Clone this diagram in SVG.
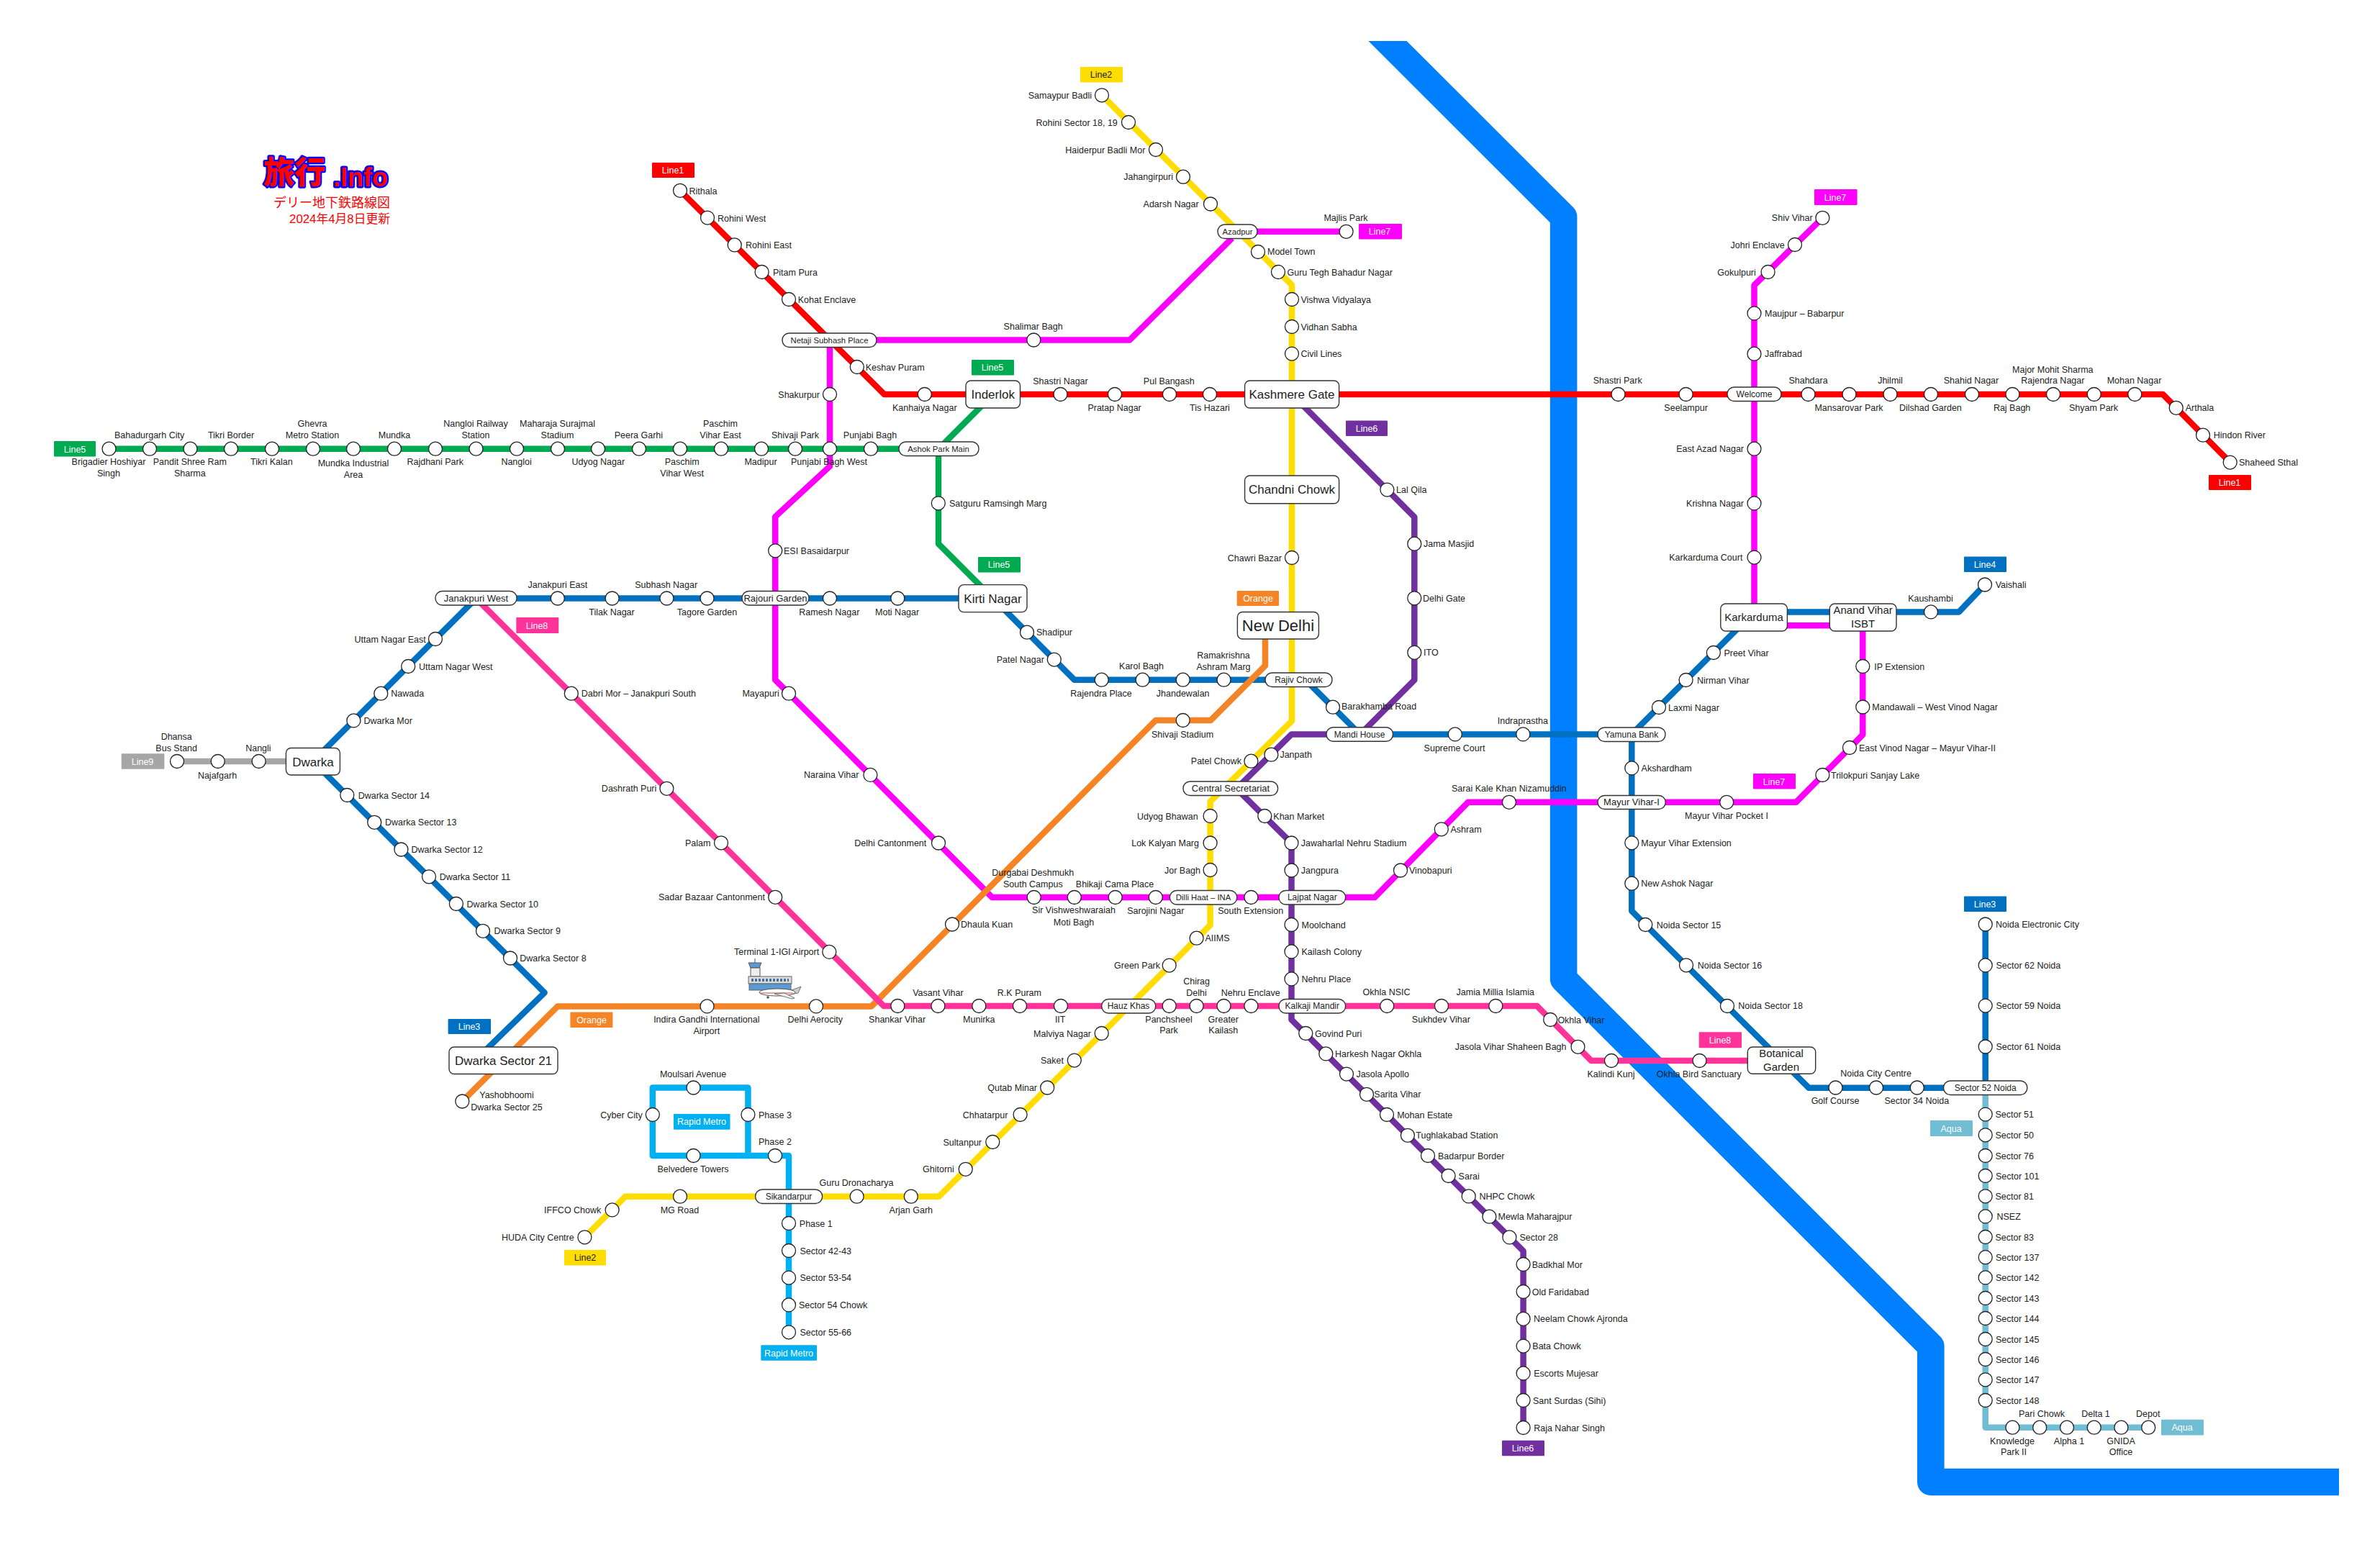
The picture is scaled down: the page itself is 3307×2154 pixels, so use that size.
<svg xmlns="http://www.w3.org/2000/svg" width="3307" height="2154" viewBox="0 0 3307 2154">
<style>
text{font-family:"Liberation Sans","Noto Sans CJK JP",sans-serif;font-size:12.5px;fill:#222}
.m{text-anchor:middle}
.e{text-anchor:end}
.s{fill:#fff;stroke:#222;stroke-width:1.3}
.b{fill:#fff;stroke:#333;stroke-width:1.4}
.i{font-size:12px;text-anchor:middle}
.i13{font-size:13px;text-anchor:middle}
.i11{font-size:11.3px;text-anchor:middle}
.h{font-size:15px;text-anchor:middle}
.k{font-size:17px;text-anchor:middle}
.tag{font-size:12.5px;text-anchor:middle;fill:#fff}
.tagd{font-size:12.5px;text-anchor:middle;fill:#222}
#lines path{fill:none;stroke-width:8.5;stroke-linejoin:round}
.c1{stroke:#f00}.c2{stroke:#fd0}.c3{stroke:#0070c0}.c5{stroke:#00aa50}.c6{stroke:#7030a0}.c7{stroke:#f0f}.c8{stroke:#f39}.c9{stroke:#a6a6a6}.co{stroke:#f58426}.cr{stroke:#00b0f0}.ca{stroke:#70bdd4}
.f1{fill:#f00}.f2{fill:#fd0}.f3{fill:#0070c0}.f5{fill:#00aa50}.f6{fill:#7030a0}.f7{fill:#f0f}.f8{fill:#f39}.f9{fill:#a6a6a6}.fo{fill:#f58426}.fr{fill:#00b0f0}.fa{fill:#70bdd4}
</style>
<defs><clipPath id="rc"><rect x="1800" y="57" width="1450" height="2050"/></clipPath></defs>
<g id="river" clip-path="url(#rc)"><path d="M1900 29L2172.6 301.4V1360.6L2682.8 1870.8V2059.5H3260" fill="none" stroke="#0080ff" stroke-width="37.6" stroke-linejoin="round"/></g>
<g id="lines">
<path class="c9" d="M246 1058H435"/>
<path class="c7" d="M1870.6 321.8H1719.5M1712 331L1569.6 472.5H1153V648L1077.2 718V944.8L1378.5 1247H1910.2L2040 1114.8H2495.7L2588.3 1021V858M2437.5 858V396.4L2532.4 302.8M2470 869.3H2560"/>
<path class="c2" d="M1531 132.3L1795 396V1002L1681.6 1114V1285.4L1304.7 1662.7H869L812.4 1719.3"/>
<path class="c5" d="M151.5 623.7H1304M1380 548L1304 624V755.7L1379.7 831.5"/>
<path class="c1" d="M945 264.8L1228.7 548H3005.3L3098.7 642.6"/>
<path class="cr" d="M1039.4 1606V1511.5H906.8V1606H1096V1851.3"/>
<path class="c3" d="M670 1464L756.6 1379.5L434.9 1058L661.5 831.5H1380L1492.8 944.7H1814L1889.7 1020.4H2267.3M2267 1020.4L2430 858M2470 850.4H2722L2758 812.5M2267.3 1020.4V1266L2513.3 1511.7H2758.7V1284.5"/>
<path class="ca" d="M2758.7 1511.5V1983.7H2985.2"/>
<path class="c6" d="M1795 548L1965.3 718.4V945L1890 1020.4H1794.5L1718 1096L1794.5 1171.5V1417L2116.6 1738.5V1984"/>
<path class="co" d="M642.3 1530.5L774.8 1398.4H1210.8L1605.8 1001H1682.3L1758 925V870"/>
<path class="c8" d="M661.5 831.5L1228 1398H2135.7L2211 1474H2440"/>
</g>
<g id="logo">
<text x="366" y="254.5" style="font-family:'Noto Sans CJK JP',sans-serif;font-size:43px;font-weight:900;fill:#f00;stroke:#00f;stroke-width:4.5px;paint-order:stroke;stroke-linejoin:round">旅行</text>
<text x="463" y="259" style="font-family:'Liberation Sans',sans-serif;font-size:36px;font-weight:700;fill:#f00;stroke:#00f;stroke-width:5px;paint-order:stroke;stroke-linejoin:round">.Info</text>
<text x="380" y="287.5" style="font-family:'Noto Sans CJK JP',sans-serif;font-size:18px;fill:#f00">デリー地下鉄路線図</text>
<text x="542" y="310" class="e" style="font-family:'Liberation Sans','Noto Sans CJK JP',sans-serif;font-size:16.8px;fill:#f00">2024年4月8日更新</text>
</g>
<g id="airport">
<line x1="1049" y1="1332" x2="1049" y2="1338" stroke="#555"/>
<polygon points="1040,1338 1058,1338 1055,1345 1043,1345" fill="#5b9bd5" stroke="#555"/>
<rect x="1043" y="1345" width="13" height="12" fill="#eee" stroke="#555"/>
<rect x="1040" y="1357" width="60" height="10" fill="#ddd" stroke="#666"/>
<line x1="1044" y1="1362" x2="1096" y2="1362" stroke="#44709f" stroke-width="4" stroke-dasharray="3 2"/>
<rect x="1041" y="1367" width="58" height="9" fill="#5b9bd5" stroke="#666"/>
<polygon points="1097,1377 1113,1371 1109,1380 1098,1382" fill="#ccc" stroke="#555" stroke-width=".8"/>
<ellipse cx="1080" cy="1379" rx="25" ry="5" fill="#fff" stroke="#555"/>
<line x1="1056" y1="1380" x2="1102" y2="1380" stroke="#c44" stroke-width="1.2"/>
<polygon points="1076,1381 1100,1388 1104,1387 1090,1380" fill="#eee" stroke="#555" stroke-width=".8"/>
<circle cx="1067" cy="1386" r="1.8" fill="#555"/>
</g>
<g id="tag-line1a"><rect class="f1" x="906" y="226" width="59" height="21" rx="1"/><text class="tag" x="935" y="241">Line1</text></g>
<g id="tag-line1b"><rect class="f1" x="3069" y="660" width="59" height="21" rx="1"/><text class="tag" x="3098" y="675">Line1</text></g>
<g id="tag-line2a"><rect class="f2" x="1501" y="93" width="59" height="21.5" rx="1"/><text class="tagd" x="1530" y="108">Line2</text></g>
<g id="tag-line2b"><rect class="f2" x="784" y="1737" width="58" height="21.5" rx="1"/><text class="tagd" x="813" y="1752">Line2</text></g>
<g id="tag-line3a"><rect class="f3" x="622.6" y="1416" width="59.4" height="21" rx="1"/><text class="tag" x="652" y="1431">Line3</text></g>
<g id="tag-line3b"><rect class="f3" x="2729" y="1245.5" width="59" height="21.5" rx="1"/><text class="tag" x="2758" y="1261">Line3</text></g>
<g id="tag-line4"><rect class="f3" x="2729" y="773.5" width="59" height="21.5" rx="1"/><text class="tag" x="2758" y="789">Line4</text></g>
<g id="tag-line5a"><rect class="f5" x="75" y="613" width="58" height="21.5" rx="1"/><text class="tag" x="104" y="628.5">Line5</text></g>
<g id="tag-line5b"><rect class="f5" x="1350" y="500" width="59" height="21.5" rx="1"/><text class="tag" x="1379" y="515">Line5</text></g>
<g id="tag-line5c"><rect class="f5" x="1359" y="774" width="59" height="21.5" rx="1"/><text class="tag" x="1388" y="789">Line5</text></g>
<g id="tag-line6a"><rect class="f6" x="1870" y="584.5" width="58" height="21.5" rx="1"/><text class="tag" x="1899" y="600">Line6</text></g>
<g id="tag-line6b"><rect class="f6" x="2087" y="2001.7" width="59" height="21.5" rx="1"/><text class="tag" x="2116" y="2017">Line6</text></g>
<g id="tag-line7a"><rect class="f7" x="1888" y="311" width="60" height="21.5" rx="1"/><text class="tag" x="1917" y="326">Line7</text></g>
<g id="tag-line7b"><rect class="f7" x="2521" y="263" width="59.6" height="22" rx="1"/><text class="tag" x="2550" y="278.5">Line7</text></g>
<g id="tag-line7c"><rect class="f7" x="2436" y="1075" width="59" height="21.5" rx="1"/><text class="tag" x="2465" y="1090.5">Line7</text></g>
<g id="tag-line8a"><rect class="f8" x="717.3" y="858" width="59" height="22" rx="1"/><text class="tag" x="746" y="873.5">Line8</text></g>
<g id="tag-line8b"><rect class="f8" x="2360.7" y="1434.3" width="59.3" height="22" rx="1"/><text class="tag" x="2390" y="1450">Line8</text></g>
<g id="tag-line9"><rect class="f9" x="168.7" y="1047.3" width="59.7" height="21.5" rx="1"/><text class="tag" x="198" y="1062.5">Line9</text></g>
<g id="tag-orangea"><rect class="fo" x="1718.7" y="821" width="58.3" height="21" rx="1"/><text class="tag" x="1748" y="836">Orange</text></g>
<g id="tag-orangeb"><rect class="fo" x="792.4" y="1406.5" width="59" height="21.5" rx="1"/><text class="tag" x="822" y="1422">Orange</text></g>
<g id="tag-rapida"><rect class="fr" x="936" y="1548" width="78.5" height="21.7" rx="1"/><text class="tag" x="975" y="1563">Rapid Metro</text></g>
<g id="tag-rapidb"><rect class="fr" x="1057.3" y="1869.3" width="77.7" height="21.5" rx="1"/><text class="tag" x="1096" y="1884.5">Rapid Metro</text></g>
<g id="tag-aquaa"><rect class="fa" x="2682" y="1557" width="59" height="22" rx="1"/><text class="tag" x="2711" y="1572.5">Aqua</text></g>
<g id="tag-aquab"><rect class="fa" x="3003" y="1972.8" width="59" height="21.8" rx="1"/><text class="tag" x="3032" y="1988">Aqua</text></g>

<g id="netaji-subhash-place"><rect class="b" x="1087" y="463" width="131" height="19.5" rx="9.5"/><text class="i11" x="1152.5" y="476.7">Netaji Subhash Place</text></g>
<g id="azadpur"><rect class="b" x="1692" y="312" width="55" height="19.5" rx="9.5"/><text class="i11" x="1719.5" y="325.8">Azadpur</text></g>
<g id="ashok-park-main"><rect class="b" x="1249" y="614" width="111" height="19.5" rx="9.5"/><text class="i11" x="1304" y="628">Ashok Park Main</text></g>
<g id="inderlok"><rect class="b" x="1342" y="529" width="75.5" height="38" rx="7"/><text class="k" x="1379.7" y="554">Inderlok</text></g>
<g id="kashmere-gate"><rect class="b" x="1729.6" y="529" width="131" height="38" rx="7"/><text class="k" x="1795" y="554">Kashmere Gate</text></g>
<g id="chandni-chowk"><rect class="b" x="1729.6" y="661" width="131" height="38.7" rx="7"/><text class="k" x="1795" y="686">Chandni Chowk</text></g>
<g id="new-delhi"><rect class="b" x="1719.4" y="850.5" width="113" height="37.5" rx="7"/><text class="k" style="font-size:22px" x="1776" y="877">New Delhi</text></g>
<g id="rajiv-chowk"><rect class="b" x="1758" y="935" width="93" height="19.5" rx="9.5"/><text class="i" x="1804.5" y="949">Rajiv Chowk</text></g>
<g id="central-secretariat"><rect class="b" x="1644" y="1086" width="131.6" height="19.5" rx="9.5"/><text class="i13" x="1710" y="1100">Central Secretariat</text></g>
<g id="dilli-haat-ina"><rect class="b" x="1625.4" y="1237.5" width="93.3" height="19.5" rx="9.5"/><text class="i11" x="1672" y="1251.3">Dilli Haat – INA</text></g>
<g id="lajpat-nagar"><rect class="b" x="1777" y="1237.5" width="92.6" height="19.5" rx="9.5"/><text class="i" x="1823.3" y="1251.3">Lajpat Nagar</text></g>
<g id="hauz-khas"><rect class="b" x="1530.7" y="1388.5" width="75" height="19.5" rx="9.5"/><text class="i" x="1568" y="1402.3">Hauz Khas</text></g>
<g id="kalkaji-mandir"><rect class="b" x="1777" y="1388.5" width="92.6" height="19.5" rx="9.5"/><text class="i" x="1823.3" y="1402.3">Kalkaji Mandir</text></g>
<g id="sikandarpur"><rect class="b" x="1049.6" y="1653" width="93" height="19.5" rx="9.5"/><text class="i" x="1096" y="1667">Sikandarpur</text></g>
<g id="janakpuri-west"><rect class="b" x="605" y="821.5" width="113" height="19.5" rx="9.5"/><text class="i13" x="661.5" y="835.5">Janakpuri West</text></g>
<g id="rajouri-garden"><rect class="b" x="1031" y="821.5" width="93" height="19.5" rx="9.5"/><text class="i13" x="1077.5" y="835.5">Rajouri Garden</text></g>
<g id="kirti-nagar"><rect class="b" x="1332" y="812.6" width="95" height="38" rx="7"/><text class="k" x="1379.5" y="837.5">Kirti Nagar</text></g>
<g id="dwarka"><rect class="b" x="397.4" y="1039.5" width="75" height="37.5" rx="7"/><text class="k" x="435" y="1064.5">Dwarka</text></g>
<g id="dwarka-sector-21"><rect class="b" x="624" y="1455" width="151" height="37.5" rx="7"/><text class="k" x="699.5" y="1480">Dwarka Sector 21</text></g>
<g id="mandi-house"><rect class="b" x="1843" y="1010.8" width="92.5" height="19.5" rx="9.5"/><text class="i" x="1889" y="1024.7">Mandi House</text></g>
<g id="welcome"><rect class="b" x="2400" y="538" width="75" height="19.5" rx="9.5"/><text class="i" x="2437.5" y="552">Welcome</text></g>
<g id="karkarduma"><rect class="b" x="2390.8" y="839" width="92.6" height="38" rx="7"/><text class="h" x="2437" y="863">Karkarduma</text></g>
<g id="anand-vihar-isbt"><rect class="b" x="2542.3" y="839" width="92.7" height="38" rx="7"/><text class="h" x="2588.6" y="853">Anand Vihar</text><text class="h" x="2588.6" y="872">ISBT</text></g>
<g id="yamuna-bank"><rect class="b" x="2220" y="1011" width="94" height="19.5" rx="9.5"/><text class="i" x="2267" y="1025">Yamuna Bank</text></g>
<g id="mayur-vihar-i"><rect class="b" x="2220" y="1105.5" width="94.3" height="19" rx="9.5"/><text class="i13" x="2267" y="1119.3">Mayur Vihar-I</text></g>
<g id="botanical-garden"><rect class="b" x="2428.3" y="1455" width="94.4" height="37.3" rx="7"/><text class="h" x="2475" y="1469">Botanical</text><text class="h" x="2475" y="1488">Garden</text></g>
<g id="sector-52-noida"><rect class="b" x="2700.5" y="1502" width="116.3" height="19.5" rx="9.5"/><text class="i" x="2758.7" y="1516">Sector 52 Noida</text></g>

<g id="brigadier-hoshiyar-singh"><circle class="s" cx="151.5" cy="623.7" r="9.5"/><text class="m" x="151" y="646">Brigadier Hoshiyar</text><text class="m" x="151" y="662">Singh</text></g>
<g id="bahadurgarh-city"><circle class="s" cx="208" cy="623.7" r="9.5"/><text class="m" x="207.6" y="609">Bahadurgarh City</text></g>
<g id="pandit-shree-ram-sharma"><circle class="s" cx="264.5" cy="623.7" r="9.5"/><text class="m" x="263.8" y="646">Pandit Shree Ram</text><text class="m" x="263.8" y="662">Sharma</text></g>
<g id="tikri-border"><circle class="s" cx="321" cy="623.7" r="9.5"/><text class="m" x="321" y="609">Tikri Border</text></g>
<g id="tikri-kalan"><circle class="s" cx="378" cy="623.7" r="9.5"/><text class="m" x="377.4" y="646">Tikri Kalan</text></g>
<g id="ghevra"><circle class="s" cx="435" cy="623.7" r="9.5"/><text class="m" x="434" y="593">Ghevra</text><text class="m" x="434" y="609">Metro Station</text></g>
<g id="mundka-industrial-area"><circle class="s" cx="491" cy="623.7" r="9.5"/><text class="m" x="491" y="648">Mundka Industrial</text><text class="m" x="491" y="664">Area</text></g>
<g id="mundka"><circle class="s" cx="548" cy="623.7" r="9.5"/><text class="m" x="548" y="609">Mundka</text></g>
<g id="rajdhani-park"><circle class="s" cx="605" cy="623.7" r="9.5"/><text class="m" x="604.7" y="646">Rajdhani Park</text></g>
<g id="nangloi-railway-station"><circle class="s" cx="661.5" cy="623.7" r="9.5"/><text class="m" x="661" y="593">Nangloi Railway</text><text class="m" x="661" y="609">Station</text></g>
<g id="nangloi"><circle class="s" cx="718" cy="623.7" r="9.5"/><text class="m" x="717.6" y="646">Nangloi</text></g>
<g id="maharaja-surajmal-stadium"><circle class="s" cx="775" cy="623.7" r="9.5"/><text class="m" x="774.5" y="593">Maharaja Surajmal</text><text class="m" x="774.5" y="609">Stadium</text></g>
<g id="udyog-nagar"><circle class="s" cx="831" cy="623.7" r="9.5"/><text class="m" x="831.3" y="646">Udyog Nagar</text></g>
<g id="peera-garhi"><circle class="s" cx="888" cy="623.7" r="9.5"/><text class="m" x="887.4" y="609">Peera Garhi</text></g>
<g id="paschim-vihar-west"><circle class="s" cx="945" cy="623.7" r="9.5"/><text class="m" x="947.7" y="646">Paschim</text><text class="m" x="947.7" y="662">Vihar West</text></g>
<g id="paschim-vihar-east"><circle class="s" cx="1002" cy="623.7" r="9.5"/><text class="m" x="1001" y="593">Paschim</text><text class="m" x="1001" y="609">Vihar East</text></g>
<g id="madipur"><circle class="s" cx="1058" cy="623.7" r="9.5"/><text class="m" x="1057" y="646">Madipur</text></g>
<g id="shivaji-park"><circle class="s" cx="1105" cy="623.7" r="9.5"/><text class="m" x="1105" y="609">Shivaji Park</text></g>
<g id="punjabi-bagh-west"><circle class="s" cx="1153" cy="623.7" r="9.5"/><text class="m" x="1152" y="646">Punjabi Bagh West</text></g>
<g id="punjabi-bagh"><circle class="s" cx="1210" cy="623.7" r="9.5"/><text class="m" x="1209" y="609">Punjabi Bagh</text></g>
<g id="satguru-ramsingh-marg"><circle class="s" cx="1303.8" cy="699.3" r="9.5"/><text x="1319" y="704">Satguru Ramsingh Marg</text></g>

<g id="rithala"><circle class="s" cx="945" cy="264.8" r="9.5"/><text x="957.5" y="269.5">Rithala</text></g>
<g id="rohini-west"><circle class="s" cx="983" cy="302.6" r="9.5"/><text x="997" y="307.5">Rohini West</text></g>
<g id="rohini-east"><circle class="s" cx="1020.7" cy="340.4" r="9.5"/><text x="1036" y="345">Rohini East</text></g>
<g id="pitam-pura"><circle class="s" cx="1058.6" cy="378" r="9.5"/><text x="1074" y="383">Pitam Pura</text></g>
<g id="kohat-enclave"><circle class="s" cx="1096" cy="416" r="9.5"/><text x="1108.7" y="420.5">Kohat Enclave</text></g>
<g id="keshav-puram"><circle class="s" cx="1190.8" cy="510" r="9.5"/><text x="1202.7" y="514.5">Keshav Puram</text></g>
<g id="kanhaiya-nagar"><circle class="s" cx="1284.8" cy="548" r="9.5"/><text class="m" x="1284.8" y="571">Kanhaiya Nagar</text></g>
<g id="shastri-nagar"><circle class="s" cx="1473.5" cy="548" r="9.5"/><text class="m" x="1473.5" y="533.5">Shastri Nagar</text></g>
<g id="pratap-nagar"><circle class="s" cx="1549" cy="548" r="9.5"/><text class="m" x="1548.6" y="571">Pratap Nagar</text></g>
<g id="pul-bangash"><circle class="s" cx="1625" cy="548" r="9.5"/><text class="m" x="1624.3" y="533.5">Pul Bangash</text></g>
<g id="tis-hazari"><circle class="s" cx="1681" cy="548" r="9.5"/><text class="m" x="1681" y="571">Tis Hazari</text></g>
<g id="shastri-park"><circle class="s" cx="2248.5" cy="548" r="9.5"/><text class="m" x="2247.7" y="533">Shastri Park</text></g>
<g id="seelampur"><circle class="s" cx="2342.6" cy="548" r="9.5"/><text class="m" x="2342.6" y="571">Seelampur</text></g>
<g id="shahdara"><circle class="s" cx="2512.5" cy="548" r="9.5"/><text class="m" x="2512.5" y="533">Shahdara</text></g>
<g id="mansarovar-park"><circle class="s" cx="2569.5" cy="548" r="9.5"/><text class="m" x="2569" y="571">Mansarovar Park</text></g>
<g id="jhilmil"><circle class="s" cx="2626.5" cy="548" r="9.5"/><text class="m" x="2626.5" y="533">Jhilmil</text></g>
<g id="dilshad-garden"><circle class="s" cx="2683" cy="548" r="9.5"/><text class="m" x="2682.4" y="571">Dilshad Garden</text></g>
<g id="shahid-nagar"><circle class="s" cx="2740" cy="548" r="9.5"/><text class="m" x="2739" y="533">Shahid Nagar</text></g>
<g id="raj-bagh"><circle class="s" cx="2796.4" cy="548" r="9.5"/><text class="m" x="2795.6" y="571">Raj Bagh</text></g>
<g id="rajendra-nagar"><circle class="s" cx="2853" cy="548" r="9.5"/><text class="m" x="2852.3" y="517.5">Major Mohit Sharma</text><text class="m" x="2852.3" y="533">Rajendra Nagar</text></g>
<g id="shyam-park"><circle class="s" cx="2909.7" cy="548" r="9.5"/><text class="m" x="2909" y="571">Shyam Park</text></g>
<g id="mohan-nagar"><circle class="s" cx="2966.3" cy="548" r="9.5"/><text class="m" x="2965.5" y="533">Mohan Nagar</text></g>
<g id="arthala"><circle class="s" cx="3023.7" cy="566.8" r="9.5"/><text x="3036.7" y="571">Arthala</text></g>
<g id="hindon-river"><circle class="s" cx="3061" cy="604.7" r="9.5"/><text x="3075.7" y="609">Hindon River</text></g>
<g id="shaheed-sthal"><circle class="s" cx="3098.7" cy="642.6" r="9.5"/><text x="3111" y="646.5">Shaheed Sthal</text></g>

<g id="samaypur-badli"><circle class="s" cx="1531" cy="132.3" r="9.5"/><text class="e" x="1517" y="137">Samaypur Badli</text></g>
<g id="rohini-sector-18-19"><circle class="s" cx="1568" cy="170" r="9.5"/><text class="e" x="1552.8" y="174.5">Rohini Sector 18, 19</text></g>
<g id="haiderpur-badli-mor"><circle class="s" cx="1606" cy="208" r="9.5"/><text class="e" x="1591.4" y="212.5">Haiderpur Badli Mor</text></g>
<g id="jahangirpuri"><circle class="s" cx="1644" cy="245.7" r="9.5"/><text class="e" x="1630" y="250">Jahangirpuri</text></g>
<g id="adarsh-nagar"><circle class="s" cx="1682" cy="283.5" r="9.5"/><text class="e" x="1665.7" y="288">Adarsh Nagar</text></g>
<g id="model-town"><circle class="s" cx="1748" cy="350" r="9.5"/><text x="1761" y="354">Model Town</text></g>
<g id="guru-tegh-bahadur-nagar"><circle class="s" cx="1776" cy="378" r="9.5"/><text x="1788.5" y="382.5">Guru Tegh Bahadur Nagar</text></g>
<g id="vishwa-vidyalaya"><circle class="s" cx="1795" cy="416" r="9.5"/><text x="1807.4" y="420.5">Vishwa Vidyalaya</text></g>
<g id="vidhan-sabha"><circle class="s" cx="1795" cy="454" r="9.5"/><text x="1807.4" y="458.5">Vidhan Sabha</text></g>
<g id="civil-lines"><circle class="s" cx="1795" cy="491.6" r="9.5"/><text x="1807.4" y="496">Civil Lines</text></g>
<g id="chawri-bazar"><circle class="s" cx="1795" cy="775" r="9.5"/><text class="e" x="1780.8" y="779.5">Chawri Bazar</text></g>
<g id="patel-chowk"><circle class="s" cx="1738.4" cy="1057.7" r="9.5"/><text class="e" x="1725" y="1062">Patel Chowk</text></g>
<g id="udyog-bhawan"><circle class="s" cx="1681.6" cy="1134" r="9.5"/><text class="e" x="1664.7" y="1138.5">Udyog Bhawan</text></g>
<g id="lok-kalyan-marg"><circle class="s" cx="1681.6" cy="1171.5" r="9.5"/><text class="e" x="1666" y="1176">Lok Kalyan Marg</text></g>
<g id="jor-bagh"><circle class="s" cx="1681.6" cy="1209" r="9.5"/><text class="e" x="1668" y="1213.5">Jor Bagh</text></g>
<g id="aiims"><circle class="s" cx="1662.6" cy="1303.7" r="9.5"/><text x="1674.5" y="1308">AIIMS</text></g>
<g id="green-park"><circle class="s" cx="1624.7" cy="1341.6" r="9.5"/><text class="e" x="1612" y="1346">Green Park</text></g>
<g id="malviya-nagar"><circle class="s" cx="1530.7" cy="1436" r="9.5"/><text class="e" x="1516" y="1440.5">Malviya Nagar</text></g>
<g id="saket"><circle class="s" cx="1492.8" cy="1473.6" r="9.5"/><text class="e" x="1478" y="1478">Saket</text></g>
<g id="qutab-minar"><circle class="s" cx="1455.2" cy="1511.5" r="9.5"/><text class="e" x="1441" y="1516">Qutab Minar</text></g>
<g id="chhatarpur"><circle class="s" cx="1417.6" cy="1549" r="9.5"/><text class="e" x="1400.4" y="1553.5">Chhatarpur</text></g>
<g id="sultanpur"><circle class="s" cx="1379.3" cy="1587" r="9.5"/><text class="e" x="1364" y="1591.5">Sultanpur</text></g>
<g id="ghitorni"><circle class="s" cx="1341.7" cy="1624.8" r="9.5"/><text class="e" x="1325.8" y="1629">Ghitorni</text></g>
<g id="arjan-garh"><circle class="s" cx="1265.8" cy="1662.7" r="9.5"/><text class="m" x="1265.8" y="1686">Arjan Garh</text></g>
<g id="guru-dronacharya"><circle class="s" cx="1190.6" cy="1662.7" r="9.5"/><text class="m" x="1190" y="1648">Guru Dronacharya</text></g>
<g id="mg-road"><circle class="s" cx="945" cy="1662.7" r="9.5"/><text class="m" x="944.4" y="1686">MG Road</text></g>
<g id="iffco-chowk"><circle class="s" cx="850.6" cy="1681.4" r="9.5"/><text class="e" x="835.3" y="1686">IFFCO Chowk</text></g>
<g id="huda-city-centre"><circle class="s" cx="812.4" cy="1719.3" r="9.5"/><text class="e" x="797.7" y="1724">HUDA City Centre</text></g>

<g id="majlis-park"><circle class="s" cx="1870.6" cy="321.8" r="9.5"/><text class="m" x="1870" y="306.5">Majlis Park</text></g>
<g id="shalimar-bagh"><circle class="s" cx="1436.3" cy="472.5" r="9.5"/><text class="m" x="1435.6" y="457.5">Shalimar Bagh</text></g>
<g id="shakurpur"><circle class="s" cx="1153" cy="548" r="9.5"/><text class="e" x="1139" y="552.5">Shakurpur</text></g>
<g id="esi-basaidarpur"><circle class="s" cx="1077.2" cy="765.3" r="9.5"/><text x="1089" y="769.8">ESI Basaidarpur</text></g>
<g id="mayapuri"><circle class="s" cx="1096" cy="963.7" r="9.5"/><text class="e" x="1082.8" y="968">Mayapuri</text></g>
<g id="naraina-vihar"><circle class="s" cx="1209.4" cy="1076.9" r="9.5"/><text class="e" x="1193.3" y="1081.4">Naraina Vihar</text></g>
<g id="delhi-cantonment"><circle class="s" cx="1304" cy="1171.5" r="9.5"/><text class="e" x="1287.3" y="1176">Delhi Cantonment</text></g>
<g id="durgabai-deshmukh-south-campus"><circle class="s" cx="1436.7" cy="1247" r="9.5"/><text class="m" x="1435.3" y="1216.7">Durgabai Deshmukh</text><text class="m" x="1435.3" y="1232.7">South Campus</text></g>
<g id="sir-vishweshwaraiah-moti-bagh"><circle class="s" cx="1492.8" cy="1247" r="9.5"/><text class="m" x="1492" y="1269">Sir Vishweshwaraiah</text><text class="m" x="1492" y="1285.5">Moti Bagh</text></g>
<g id="bhikaji-cama-place"><circle class="s" cx="1549.7" cy="1247" r="9.5"/><text class="m" x="1549" y="1232.5">Bhikaji Cama Place</text></g>
<g id="sarojini-nagar"><circle class="s" cx="1605.8" cy="1247" r="9.5"/><text class="m" x="1605.8" y="1270">Sarojini Nagar</text></g>
<g id="south-extension"><circle class="s" cx="1738.4" cy="1247" r="9.5"/><text class="m" x="1737.7" y="1270">South Extension</text></g>
<g id="vinobapuri"><circle class="s" cx="1946" cy="1209.5" r="9.5"/><text x="1958" y="1214">Vinobapuri</text></g>
<g id="ashram"><circle class="s" cx="2002.8" cy="1152.3" r="9.5"/><text x="2015.5" y="1157">Ashram</text></g>
<g id="sarai-kale-khan-nizamuddin"><circle class="s" cx="2096.9" cy="1114.8" r="9.5"/><text class="m" x="2096.9" y="1100">Sarai Kale Khan Nizamuddin</text></g>
<g id="mayur-vihar-pocket-i"><circle class="s" cx="2399.2" cy="1114.8" r="9.5"/><text class="m" x="2399" y="1138">Mayur Vihar Pocket I</text></g>
<g id="trilokpuri-sanjay-lake"><circle class="s" cx="2532.4" cy="1077" r="9.5"/><text x="2544" y="1081.5">Trilokpuri Sanjay Lake</text></g>
<g id="east-vinod-nagar"><circle class="s" cx="2570" cy="1039" r="9.5"/><text x="2583" y="1043.5">East Vinod Nagar – Mayur Vihar-II</text></g>
<g id="mandawali"><circle class="s" cx="2588.3" cy="982.5" r="9.5"/><text x="2601.3" y="987">Mandawali – West Vinod Nagar</text></g>
<g id="ip-extension"><circle class="s" cx="2588.3" cy="926" r="9.5"/><text x="2604.3" y="930.5">IP Extension</text></g>
<g id="karkarduma-court"><circle class="s" cx="2437.5" cy="774.6" r="9.5"/><text class="e" x="2421.4" y="779">Karkarduma Court</text></g>
<g id="krishna-nagar"><circle class="s" cx="2437.5" cy="699.4" r="9.5"/><text class="e" x="2423" y="704">Krishna Nagar</text></g>
<g id="east-azad-nagar"><circle class="s" cx="2437.5" cy="623.7" r="9.5"/><text class="e" x="2423" y="628">East Azad Nagar</text></g>
<g id="jaffrabad"><circle class="s" cx="2437.5" cy="491.7" r="9.5"/><text x="2452" y="496">Jaffrabad</text></g>
<g id="maujpur-babarpur"><circle class="s" cx="2437.5" cy="435.4" r="9.5"/><text x="2452" y="440">Maujpur – Babarpur</text></g>
<g id="gokulpuri"><circle class="s" cx="2456.6" cy="378" r="9.5"/><text class="e" x="2439.8" y="382.5">Gokulpuri</text></g>
<g id="johri-enclave"><circle class="s" cx="2494" cy="340" r="9.5"/><text class="e" x="2479.6" y="344.5">Johri Enclave</text></g>
<g id="shiv-vihar"><circle class="s" cx="2532.4" cy="302.8" r="9.5"/><text class="e" x="2518.6" y="307">Shiv Vihar</text></g>

<g id="janakpuri-east"><circle class="s" cx="774.8" cy="831.5" r="9.5"/><text class="m" x="774.8" y="816.7">Janakpuri East</text></g>
<g id="tilak-nagar"><circle class="s" cx="850.6" cy="831.5" r="9.5"/><text class="m" x="850" y="854.5">Tilak Nagar</text></g>
<g id="subhash-nagar"><circle class="s" cx="926.4" cy="831.5" r="9.5"/><text class="m" x="925.7" y="816.7">Subhash Nagar</text></g>
<g id="tagore-garden"><circle class="s" cx="982.5" cy="831.5" r="9.5"/><text class="m" x="982.5" y="854.5">Tagore Garden</text></g>
<g id="ramesh-nagar"><circle class="s" cx="1153" cy="831.5" r="9.5"/><text class="m" x="1152.3" y="854.5">Ramesh Nagar</text></g>
<g id="moti-nagar"><circle class="s" cx="1247.3" cy="831.5" r="9.5"/><text class="m" x="1246.6" y="854.5">Moti Nagar</text></g>
<g id="shadipur"><circle class="s" cx="1427" cy="878.7" r="9.5"/><text x="1440" y="883">Shadipur</text></g>
<g id="patel-nagar"><circle class="s" cx="1464.8" cy="916.6" r="9.5"/><text class="e" x="1450.8" y="921">Patel Nagar</text></g>
<g id="rajendra-place"><circle class="s" cx="1530.7" cy="944.7" r="9.5"/><text class="m" x="1530" y="967.5">Rajendra Place</text></g>
<g id="karol-bagh"><circle class="s" cx="1587.6" cy="944.7" r="9.5"/><text class="m" x="1586" y="930">Karol Bagh</text></g>
<g id="jhandewalan"><circle class="s" cx="1643.7" cy="944.7" r="9.5"/><text class="m" x="1643.7" y="967.5">Jhandewalan</text></g>
<g id="ramakrishna-ashram-marg"><circle class="s" cx="1700.5" cy="944.7" r="9.5"/><text class="m" x="1700" y="914.5">Ramakrishna</text><text class="m" x="1700" y="930.5">Ashram Marg</text></g>
<g id="barakhamba-road"><circle class="s" cx="1852" cy="982.7" r="9.5"/><text x="1864" y="986.3">Barakhamba Road</text></g>
<g id="supreme-court"><circle class="s" cx="2021.8" cy="1020.4" r="9.5"/><text class="m" x="2021" y="1043.5">Supreme Court</text></g>
<g id="indraprastha"><circle class="s" cx="2116.3" cy="1020.4" r="9.5"/><text class="m" x="2115.8" y="1006">Indraprastha</text></g>
<g id="laxmi-nagar"><circle class="s" cx="2305" cy="983" r="9.5"/><text x="2318" y="987.5">Laxmi Nagar</text></g>
<g id="nirman-vihar"><circle class="s" cx="2342.6" cy="945" r="9.5"/><text x="2358" y="949.5">Nirman Vihar</text></g>
<g id="preet-vihar"><circle class="s" cx="2380.9" cy="907" r="9.5"/><text x="2395.4" y="911.5">Preet Vihar</text></g>
<g id="kaushambi"><circle class="s" cx="2683" cy="850.4" r="9.5"/><text class="m" x="2682.4" y="835.5">Kaushambi</text></g>
<g id="vaishali"><circle class="s" cx="2758" cy="812.5" r="9.5"/><text x="2772.7" y="817">Vaishali</text></g>
<g id="akshardham"><circle class="s" cx="2267.3" cy="1067.4" r="9.5"/><text x="2280.6" y="1071.9">Akshardham</text></g>
<g id="mayur-vihar-extension"><circle class="s" cx="2267.3" cy="1171.3" r="9.5"/><text x="2280.3" y="1175.8">Mayur Vihar Extension</text></g>
<g id="new-ashok-nagar"><circle class="s" cx="2267.3" cy="1227.7" r="9.5"/><text x="2280.3" y="1232.2">New Ashok Nagar</text></g>
<g id="noida-sector-15"><circle class="s" cx="2286.3" cy="1285" r="9.5"/><text x="2301.7" y="1289.5">Noida Sector 15</text></g>
<g id="noida-sector-16"><circle class="s" cx="2343" cy="1341.3" r="9.5"/><text x="2358.7" y="1345.8">Noida Sector 16</text></g>
<g id="noida-sector-18"><circle class="s" cx="2400" cy="1398" r="9.5"/><text x="2415.3" y="1402.3">Noida Sector 18</text></g>
<g id="golf-course"><circle class="s" cx="2550.5" cy="1511.5" r="9.5"/><text class="m" x="2550" y="1534.3">Golf Course</text></g>
<g id="noida-city-centre"><circle class="s" cx="2607" cy="1511.5" r="9.5"/><text class="m" x="2606.6" y="1496.3">Noida City Centre</text></g>
<g id="sector-34-noida"><circle class="s" cx="2663.8" cy="1511.5" r="9.5"/><text class="m" x="2663.3" y="1534.3">Sector 34 Noida</text></g>
<g id="noida-electronic-city"><circle class="s" cx="2758.7" cy="1284.5" r="9.5"/><text x="2773" y="1289">Noida Electronic City</text></g>
<g id="sector-62-noida"><circle class="s" cx="2758.7" cy="1341.4" r="9.5"/><text x="2773.5" y="1346">Sector 62 Noida</text></g>
<g id="sector-59-noida"><circle class="s" cx="2758.7" cy="1397.6" r="9.5"/><text x="2773.5" y="1402">Sector 59 Noida</text></g>
<g id="sector-61-noida"><circle class="s" cx="2758.7" cy="1454.5" r="9.5"/><text x="2773.5" y="1459">Sector 61 Noida</text></g>

<g id="sector-51"><circle class="s" cx="2758.7" cy="1548.6" r="9.5"/><text x="2772.5" y="1553">Sector 51</text></g>
<g id="sector-50"><circle class="s" cx="2758.7" cy="1577.3" r="9.5"/><text x="2772.5" y="1581.8">Sector 50</text></g>
<g id="sector-76"><circle class="s" cx="2758.7" cy="1606" r="9.5"/><text x="2772.5" y="1610.5">Sector 76</text></g>
<g id="sector-101"><circle class="s" cx="2758.7" cy="1634" r="9.5"/><text x="2773" y="1638.5">Sector 101</text></g>
<g id="sector-81"><circle class="s" cx="2758.7" cy="1662.3" r="9.5"/><text x="2772.5" y="1666.8">Sector 81</text></g>
<g id="nsez"><circle class="s" cx="2758.7" cy="1690.4" r="9.5"/><text x="2774.5" y="1695">NSEZ</text></g>
<g id="sector-83"><circle class="s" cx="2758.7" cy="1719" r="9.5"/><text x="2772.5" y="1723.5">Sector 83</text></g>
<g id="sector-137"><circle class="s" cx="2758.7" cy="1747.2" r="9.5"/><text x="2773" y="1751.7">Sector 137</text></g>
<g id="sector-142"><circle class="s" cx="2758.7" cy="1775.4" r="9.5"/><text x="2773" y="1780">Sector 142</text></g>
<g id="sector-143"><circle class="s" cx="2758.7" cy="1804" r="9.5"/><text x="2773" y="1808.5">Sector 143</text></g>
<g id="sector-144"><circle class="s" cx="2758.7" cy="1832" r="9.5"/><text x="2773" y="1836.7">Sector 144</text></g>
<g id="sector-145"><circle class="s" cx="2758.7" cy="1861" r="9.5"/><text x="2773" y="1865.5">Sector 145</text></g>
<g id="sector-146"><circle class="s" cx="2758.7" cy="1889" r="9.5"/><text x="2773" y="1893.7">Sector 146</text></g>
<g id="sector-147"><circle class="s" cx="2758.7" cy="1917.3" r="9.5"/><text x="2773" y="1922">Sector 147</text></g>
<g id="sector-148"><circle class="s" cx="2758.7" cy="1946" r="9.5"/><text x="2773" y="1950.5">Sector 148</text></g>
<g id="knowledge-park-ii"><circle class="s" cx="2796.4" cy="1983.7" r="9.5"/><text class="m" x="2796" y="2006.5">Knowledge</text><text class="m" x="2798" y="2022">Park II</text></g>
<g id="pari-chowk"><circle class="s" cx="2834.2" cy="1983.7" r="9.5"/><text class="m" x="2837" y="1968.7">Pari Chowk</text></g>
<g id="alpha-1"><circle class="s" cx="2872" cy="1983.7" r="9.5"/><text class="m" x="2875" y="2006.5">Alpha 1</text></g>
<g id="delta-1"><circle class="s" cx="2909.7" cy="1983.7" r="9.5"/><text class="m" x="2912" y="1968.7">Delta 1</text></g>
<g id="gnida-office"><circle class="s" cx="2947.4" cy="1983.7" r="9.5"/><text class="m" x="2947" y="2006.5">GNIDA</text><text class="m" x="2947" y="2022">Office</text></g>
<g id="depot"><circle class="s" cx="2985.2" cy="1983.7" r="9.5"/><text class="m" x="2984.7" y="1968.7">Depot</text></g>

<g id="uttam-nagar-east"><circle class="s" cx="605" cy="888" r="9.5"/><text class="e" x="591.8" y="892.5">Uttam Nagar East</text></g>
<g id="uttam-nagar-west"><circle class="s" cx="567.2" cy="926" r="9.5"/><text x="582" y="930.5">Uttam Nagar West</text></g>
<g id="nawada"><circle class="s" cx="529.3" cy="963.7" r="9.5"/><text x="543.3" y="968">Nawada</text></g>
<g id="dwarka-mor"><circle class="s" cx="491.4" cy="1001.4" r="9.5"/><text x="505.5" y="1005.7">Dwarka Mor</text></g>
<g id="dwarka-sector-14"><circle class="s" cx="482.3" cy="1105" r="9.5"/><text x="497.7" y="1109.5">Dwarka Sector 14</text></g>
<g id="dwarka-sector-13"><circle class="s" cx="520.2" cy="1142.8" r="9.5"/><text x="535" y="1147.3">Dwarka Sector 13</text></g>
<g id="dwarka-sector-12"><circle class="s" cx="557.4" cy="1180.5" r="9.5"/><text x="571.4" y="1185">Dwarka Sector 12</text></g>
<g id="dwarka-sector-11"><circle class="s" cx="596" cy="1218.3" r="9.5"/><text x="610.7" y="1222.8">Dwarka Sector 11</text></g>
<g id="dwarka-sector-10"><circle class="s" cx="633.9" cy="1256" r="9.5"/><text x="648.6" y="1260.5">Dwarka Sector 10</text></g>
<g id="dwarka-sector-9"><circle class="s" cx="671" cy="1293.8" r="9.5"/><text x="686.5" y="1298.3">Dwarka Sector 9</text></g>
<g id="dwarka-sector-8"><circle class="s" cx="709" cy="1331.5" r="9.5"/><text x="722.2" y="1336">Dwarka Sector 8</text></g>

<g id="dhansa-bus-stand"><circle class="s" cx="246" cy="1058" r="9.5"/><text class="m" x="245.2" y="1028">Dhansa</text><text class="m" x="245.2" y="1043.7">Bus Stand</text></g>
<g id="najafgarh"><circle class="s" cx="302.7" cy="1058" r="9.5"/><text class="m" x="302" y="1081.5">Najafgarh</text></g>
<g id="nangli"><circle class="s" cx="359.6" cy="1058" r="9.5"/><text class="m" x="358.9" y="1043.7">Nangli</text></g>

<g id="dabri-mor"><circle class="s" cx="793.8" cy="963.7" r="9.5"/><text x="807.8" y="968">Dabri Mor – Janakpuri South</text></g>
<g id="dashrath-puri"><circle class="s" cx="926.4" cy="1095.8" r="9.5"/><text class="e" x="912.3" y="1100">Dashrath Puri</text></g>
<g id="palam"><circle class="s" cx="1002" cy="1171.3" r="9.5"/><text class="e" x="987.4" y="1175.8">Palam</text></g>
<g id="sadar-bazaar-cantonment"><circle class="s" cx="1077.2" cy="1246.8" r="9.5"/><text class="e" x="1063" y="1251.3">Sadar Bazaar Cantonment</text></g>
<g id="terminal-1-igi-airport"><circle class="s" cx="1152.3" cy="1322.9" r="9.5"/><text class="e" x="1138.2" y="1327.4">Terminal 1-IGI Airport</text></g>
<g id="shankar-vihar"><circle class="s" cx="1247.3" cy="1398" r="9.5"/><text class="m" x="1246.6" y="1421">Shankar Vihar</text></g>
<g id="vasant-vihar"><circle class="s" cx="1303.4" cy="1398" r="9.5"/><text class="m" x="1303.4" y="1383.5">Vasant Vihar</text></g>
<g id="munirka"><circle class="s" cx="1360.3" cy="1398" r="9.5"/><text class="m" x="1360.3" y="1421">Munirka</text></g>
<g id="rk-puram"><circle class="s" cx="1417" cy="1398" r="9.5"/><text class="m" x="1416.4" y="1383.5">R.K Puram</text></g>
<g id="iit"><circle class="s" cx="1474" cy="1398" r="9.5"/><text class="m" x="1473.2" y="1421">IIT</text></g>
<g id="panchsheel-park"><circle class="s" cx="1624.7" cy="1398" r="9.5"/><text class="m" x="1624" y="1420.6">Panchsheel</text><text class="m" x="1624" y="1436.4">Park</text></g>
<g id="chirag-delhi"><circle class="s" cx="1662.6" cy="1398" r="9.5"/><text class="m" x="1662.6" y="1368">Chirag</text><text class="m" x="1662.6" y="1383.5">Delhi</text></g>
<g id="greater-kailash"><circle class="s" cx="1700.5" cy="1398" r="9.5"/><text class="m" x="1699.8" y="1420.6">Greater</text><text class="m" x="1699.8" y="1436.4">Kailash</text></g>
<g id="nehru-enclave"><circle class="s" cx="1738.4" cy="1398" r="9.5"/><text class="m" x="1737.7" y="1383.5">Nehru Enclave</text></g>
<g id="okhla-nsic"><circle class="s" cx="1927.2" cy="1398" r="9.5"/><text class="m" x="1926.5" y="1383.3">Okhla NSIC</text></g>
<g id="sukhdev-vihar"><circle class="s" cx="2003" cy="1398" r="9.5"/><text class="m" x="2002.4" y="1421">Sukhdev Vihar</text></g>
<g id="jamia-millia-islamia"><circle class="s" cx="2078.3" cy="1398" r="9.5"/><text class="m" x="2077.7" y="1383.3">Jamia Millia Islamia</text></g>
<g id="okhla-vihar"><circle class="s" cx="2154.2" cy="1417" r="9.5"/><text x="2164.4" y="1421.5">Okhla Vihar</text></g>
<g id="jasola-vihar-shaheen-bagh"><circle class="s" cx="2192.5" cy="1454.8" r="9.5"/><text class="e" x="2176.5" y="1459">Jasola Vihar Shaheen Bagh</text></g>
<g id="kalindi-kunj"><circle class="s" cx="2239" cy="1474" r="9.5"/><text class="m" x="2238.4" y="1496.5">Kalindi Kunj</text></g>
<g id="okhla-bird-sanctuary"><circle class="s" cx="2361.5" cy="1474" r="9.5"/><text class="m" x="2360.8" y="1496.5">Okhla Bird Sanctuary</text></g>

<g id="yashobhoomi"><circle class="s" cx="642.3" cy="1530.5" r="9.5"/><text class="m" x="704" y="1526.4">Yashobhoomi</text><text class="m" x="704" y="1542.6">Dwarka Sector 25</text></g>
<g id="indira-gandhi-international-airport"><circle class="s" cx="982.5" cy="1398.4" r="9.5"/><text class="m" x="981.8" y="1421">Indira Gandhi International</text><text class="m" x="981.8" y="1436.6">Airport</text></g>
<g id="delhi-aerocity"><circle class="s" cx="1134" cy="1398.4" r="9.5"/><text class="m" x="1132.7" y="1421">Delhi Aerocity</text></g>
<g id="dhaula-kuan"><circle class="s" cx="1323" cy="1284.5" r="9.5"/><text x="1335" y="1289">Dhaula Kuan</text></g>
<g id="shivaji-stadium"><circle class="s" cx="1643.7" cy="1001" r="9.5"/><text class="m" x="1643" y="1024.5">Shivaji Stadium</text></g>

<g id="lal-qila"><circle class="s" cx="1927.4" cy="680.6" r="9.5"/><text x="1940" y="685">Lal Qila</text></g>
<g id="jama-masjid"><circle class="s" cx="1965.3" cy="755.7" r="9.5"/><text x="1978" y="760">Jama Masjid</text></g>
<g id="delhi-gate"><circle class="s" cx="1965.3" cy="831.3" r="9.5"/><text x="1977" y="835.7">Delhi Gate</text></g>
<g id="ito"><circle class="s" cx="1965.3" cy="906.8" r="9.5"/><text x="1978" y="911">ITO</text></g>
<g id="janpath"><circle class="s" cx="1766.4" cy="1048.7" r="9.5"/><text x="1778.4" y="1053">Janpath</text></g>
<g id="khan-market"><circle class="s" cx="1757.3" cy="1134" r="9.5"/><text x="1769.3" y="1138.5">Khan Market</text></g>
<g id="jawaharlal-nehru-stadium"><circle class="s" cx="1794.5" cy="1171.5" r="9.5"/><text x="1807.8" y="1176">Jawaharlal Nehru Stadium</text></g>
<g id="jangpura"><circle class="s" cx="1794.5" cy="1209.5" r="9.5"/><text x="1807.8" y="1214">Jangpura</text></g>
<g id="moolchand"><circle class="s" cx="1794.5" cy="1285" r="9.5"/><text x="1808.5" y="1289.5">Moolchand</text></g>
<g id="kailash-colony"><circle class="s" cx="1794.5" cy="1322.4" r="9.5"/><text x="1808.5" y="1327">Kailash Colony</text></g>
<g id="nehru-place"><circle class="s" cx="1794.5" cy="1360.4" r="9.5"/><text x="1808.5" y="1365">Nehru Place</text></g>
<g id="govind-puri"><circle class="s" cx="1814.3" cy="1436" r="9.5"/><text x="1827" y="1440.5">Govind Puri</text></g>
<g id="harkesh-nagar-okhla"><circle class="s" cx="1842.3" cy="1464.4" r="9.5"/><text x="1855" y="1468.5">Harkesh Nagar Okhla</text></g>
<g id="jasola-apollo"><circle class="s" cx="1871" cy="1492.6" r="9.5"/><text x="1884.4" y="1497">Jasola Apollo</text></g>
<g id="sarita-vihar"><circle class="s" cx="1899" cy="1520.8" r="9.5"/><text x="1909.3" y="1525">Sarita Vihar</text></g>
<g id="mohan-estate"><circle class="s" cx="1927" cy="1549" r="9.5"/><text x="1941.2" y="1553.5">Mohan Estate</text></g>
<g id="tughlakabad-station"><circle class="s" cx="1955.9" cy="1577.8" r="9.5"/><text x="1967.3" y="1582">Tughlakabad Station</text></g>
<g id="badarpur-border"><circle class="s" cx="1984" cy="1606" r="9.5"/><text x="1998" y="1610.5">Badarpur Border</text></g>
<g id="sarai"><circle class="s" cx="2012.6" cy="1634" r="9.5"/><text x="2026.6" y="1638.5">Sarai</text></g>
<g id="nhpc-chowk"><circle class="s" cx="2040.7" cy="1662.4" r="9.5"/><text x="2055.4" y="1666.5">NHPC Chowk</text></g>
<g id="mewla-maharajpur"><circle class="s" cx="2069.4" cy="1690.7" r="9.5"/><text x="2081.5" y="1695">Mewla Maharajpur</text></g>
<g id="sector-28"><circle class="s" cx="2097.4" cy="1719.4" r="9.5"/><text x="2111.5" y="1723.5">Sector 28</text></g>
<g id="badkhal-mor"><circle class="s" cx="2116.6" cy="1757" r="9.5"/><text x="2128.7" y="1761.5">Badkhal Mor</text></g>
<g id="old-faridabad"><circle class="s" cx="2116.6" cy="1795" r="9.5"/><text x="2128.7" y="1799.5">Old Faridabad</text></g>
<g id="neelam-chowk-ajronda"><circle class="s" cx="2116.6" cy="1832.8" r="9.5"/><text x="2131" y="1837">Neelam Chowk Ajronda</text></g>
<g id="bata-chowk"><circle class="s" cx="2116.6" cy="1870.6" r="9.5"/><text x="2129.3" y="1875">Bata Chowk</text></g>
<g id="escorts-mujesar"><circle class="s" cx="2116.6" cy="1908.4" r="9.5"/><text x="2131.2" y="1913">Escorts Mujesar</text></g>
<g id="sant-surdas"><circle class="s" cx="2116.6" cy="1946" r="9.5"/><text x="2130" y="1950.5">Sant Surdas (Sihi)</text></g>
<g id="raja-nahar-singh"><circle class="s" cx="2116.6" cy="1984" r="9.5"/><text x="2131.2" y="1988.5">Raja Nahar Singh</text></g>

<g id="moulsari-avenue"><circle class="s" cx="963.5" cy="1511.5" r="9.5"/><text class="m" x="963" y="1497">Moulsari Avenue</text></g>
<g id="cyber-city"><circle class="s" cx="906.8" cy="1549" r="9.5"/><text class="e" x="892.7" y="1553.5">Cyber City</text></g>
<g id="phase-3"><circle class="s" cx="1039.4" cy="1549" r="9.5"/><text x="1054" y="1553.5">Phase 3</text></g>
<g id="phase-2"><circle class="s" cx="1077" cy="1606" r="9.5"/><text x="1054" y="1591">Phase 2</text></g>
<g id="belvedere-towers"><circle class="s" cx="963.5" cy="1606" r="9.5"/><text class="m" x="963" y="1629">Belvedere Towers</text></g>
<g id="phase-1"><circle class="s" cx="1096" cy="1700" r="9.5"/><text x="1110.8" y="1704.5">Phase 1</text></g>
<g id="sector-42-43"><circle class="s" cx="1096" cy="1738" r="9.5"/><text x="1111.5" y="1742.5">Sector 42-43</text></g>
<g id="sector-53-54"><circle class="s" cx="1096" cy="1775.6" r="9.5"/><text x="1111.5" y="1780">Sector 53-54</text></g>
<g id="sector-54-chowk"><circle class="s" cx="1096" cy="1813.4" r="9.5"/><text x="1110" y="1818">Sector 54 Chowk</text></g>
<g id="sector-55-66"><circle class="s" cx="1096" cy="1851.3" r="9.5"/><text x="1111.5" y="1856">Sector 55-66</text></g>
</svg>
